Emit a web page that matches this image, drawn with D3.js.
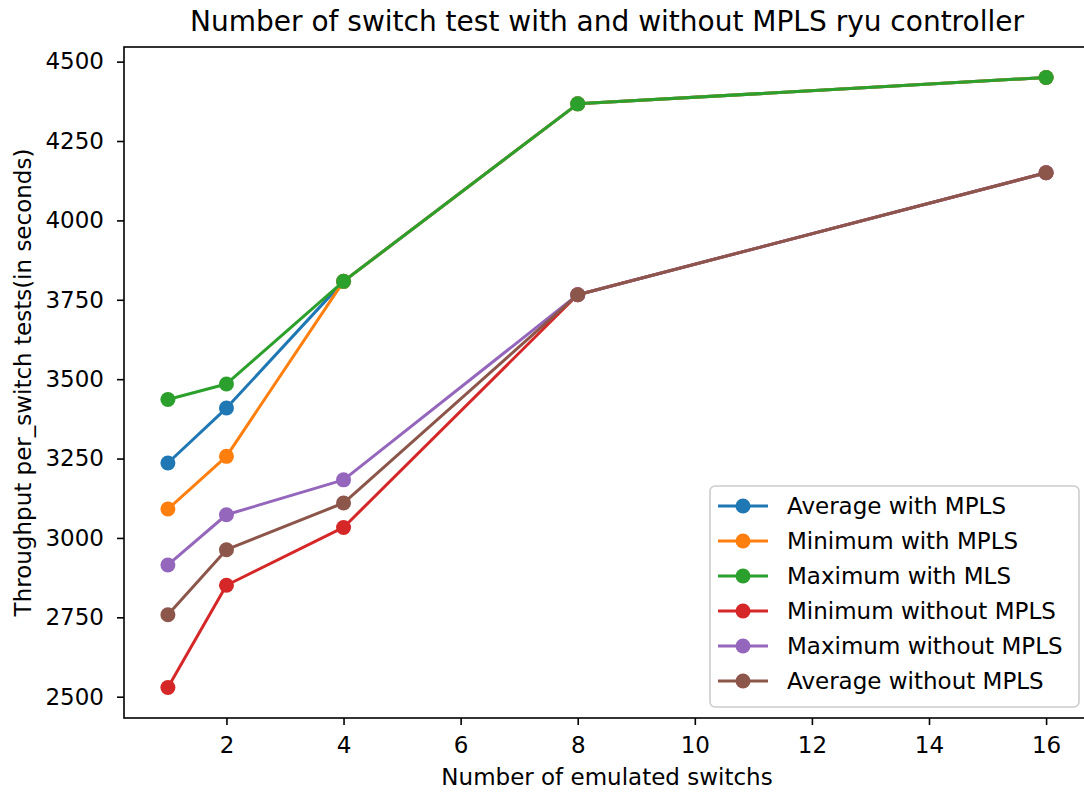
<!DOCTYPE html>
<html>
<head>
<meta charset="utf-8">
<script src="https://cdn.jsdelivr.net/npm/d3@7"></script>
<style>
  body { margin: 0; background: #fff; }
  svg text { font-family: "DejaVu Sans", sans-serif; fill: #000; }
</style>
</head>
<body>
<svg id="chart" width="1084" height="793"></svg>
<script>
// data
const switches = [1, 2, 4, 8, 16];
const averageWithMpls = [3236, 3409, 3808, 4367, 4450];
const minimumWithMpls = [3091, 3257, 3808, 4367, 4450];
const maximumWithMls = [3436, 3485, 3808, 4367, 4450];
const minimumWithoutMpls = [2529, 2851, 3033, 3766, 4150];
const maximumWithoutMpls = [2915, 3073, 3183, 3766, 4150];
const averageWithoutMpls = [2758, 2963, 3110, 3766, 4150];
const seriesNames = ["Average with MPLS", "Minimum with MPLS", "Maximum with MLS",
  "Minimum without MPLS", "Maximum without MPLS", "Average without MPLS"];
const xTicks = [2, 4, 6, 8, 10, 12, 14, 16];
const yTicks = [2500, 2750, 3000, 3250, 3500, 3750, 4000, 4250, 4500];

const colors = ["#1f77b4", "#ff7f0e", "#2ca02c", "#d62728", "#9467bd", "#8c564b"];
const allSeries = [averageWithMpls, minimumWithMpls, maximumWithMls,
  minimumWithoutMpls, maximumWithoutMpls, averageWithoutMpls];

const series = allSeries.map((vals, i) => ({
  name: seriesNames[i],
  color: colors[i],
  points: vals.map((v, j) => ({ x: switches[j], y: v }))
}));

const plotLeft = 124, plotRight = 1090, plotTop = 47, plotBottom = 718;
const fontSize = "23px";
const svg = d3.select("#chart");

// matplotlib style 5% margins
const yMin = d3.min(allSeries.flat()), yMax = d3.max(allSeries.flat());
const yPad = (yMax - yMin) * 0.05;
const xPad = (d3.max(switches) - d3.min(switches)) * 0.05;

const x = d3.scaleLinear()
  .domain([d3.min(switches) - xPad, d3.max(switches) + xPad])
  .range([plotLeft, plotRight]);
const y = d3.scaleLinear()
  .domain([yMin - yPad, yMax + yPad])
  .range([plotBottom, plotTop]);

const line = d3.line().x(d => x(d.x)).y(d => y(d.y));

const plot = svg.append("g");
series.forEach(s => {
  plot.append("path")
    .datum(s.points)
    .attr("fill", "none")
    .attr("stroke", s.color)
    .attr("stroke-width", 3)
    .attr("stroke-linejoin", "round")
    .attr("d", line);
  plot.selectAll(null)
    .data(s.points)
    .enter().append("circle")
    .attr("cx", d => x(d.x))
    .attr("cy", d => y(d.y))
    .attr("r", 7.5)
    .attr("fill", s.color);
});

// axes
const xAxis = svg.append("g")
  .attr("transform", `translate(0,${plotBottom})`)
  .call(d3.axisBottom(x).tickValues(xTicks).tickSize(7).tickPadding(12).tickFormat(d3.format("d")));
const yAxis = svg.append("g")
  .attr("transform", `translate(${plotLeft},0)`)
  .call(d3.axisLeft(y).tickValues(yTicks).tickSize(7).tickPadding(13).tickFormat(d3.format("d")));
[xAxis, yAxis].forEach(a => {
  a.select(".domain").remove();
  a.selectAll(".tick line").attr("stroke", "#000").attr("stroke-width", 1.6);
  a.selectAll(".tick text").style("font-size", fontSize).attr("fill", "#000");
});

// spines
svg.append("rect")
  .attr("x", plotLeft).attr("y", plotTop)
  .attr("width", plotRight - plotLeft).attr("height", plotBottom - plotTop)
  .attr("fill", "none")
  .attr("stroke", "#000")
  .attr("stroke-width", 1.6);

// title and labels
svg.append("text")
  .attr("x", (plotLeft + plotRight) / 2).attr("y", 31)
  .attr("text-anchor", "middle")
  .style("font-size", "28px")
  .text("Number of switch test with and without MPLS ryu controller");

svg.append("text")
  .attr("x", (plotLeft + plotRight) / 2).attr("y", 785)
  .attr("text-anchor", "middle")
  .style("font-size", fontSize)
  .text("Number of emulated switchs");

svg.append("text")
  .attr("transform", `translate(31,${(plotTop + plotBottom) / 2}) rotate(-90)`)
  .attr("text-anchor", "middle")
  .style("font-size", fontSize)
  .text("Throughput per_switch tests(in seconds)");

// legend
const legend = svg.append("g").attr("transform", "translate(710,486)");
legend.append("rect")
  .attr("width", 369).attr("height", 221)
  .attr("rx", 5)
  .attr("fill", "#fff").attr("fill-opacity", 0.8)
  .attr("stroke", "#ccc").attr("stroke-width", 1.6);
series.forEach((s, i) => {
  const row = legend.append("g").attr("transform", `translate(0,${20 + i * 35})`);
  row.append("line")
    .attr("x1", 8).attr("x2", 58)
    .attr("stroke", s.color).attr("stroke-width", 3);
  row.append("circle").attr("cx", 33).attr("r", 7.5).attr("fill", s.color);
  row.append("text")
    .attr("x", 77).attr("dy", "0.35em")
    .style("font-size", fontSize)
    .text(s.name);
});
</script>
</body>
</html>
